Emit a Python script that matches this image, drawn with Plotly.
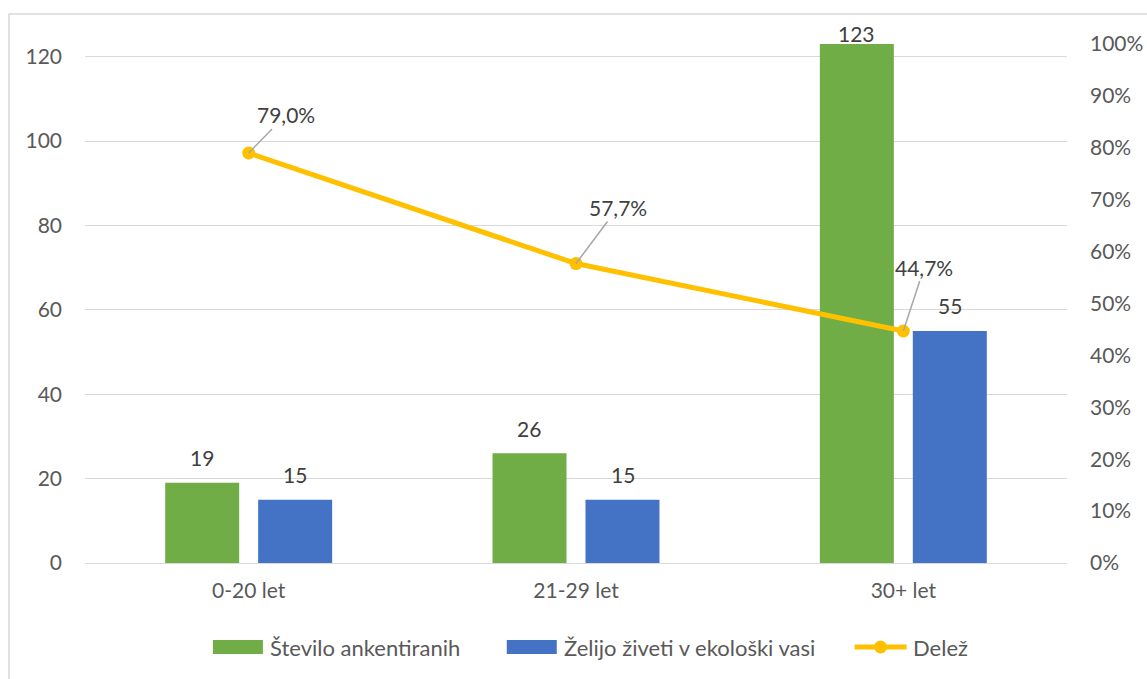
import plotly.graph_objects as go

# Age groups and survey counts
categories = ["0-20 let", "21-29 let", "30+ let"]
surveyed = [19, 26, 123]          # Število ankentiranih
want_eco = [15, 15, 55]           # Želijo živeti v ekološki vasi
share = [0.790, 0.577, 0.447]     # Delež
left_ticks = [0, 20, 40, 60, 80, 100, 120]
right_ticks = [0, 0.1, 0.2, 0.3, 0.4, 0.5, 0.6, 0.7, 0.8, 0.9, 1.0]

GREEN = "#70AD47"
BLUE = "#4472C4"
GOLD = "#FFC000"
AXIS_TXT = "#595959"
LABEL_TXT = "#404040"
GRID = "#D9D9D9"
FONT = "Lato"
FS = 21

W, H = 1147, 679
ML, MR, MT, MB = 85, 79.5, 44, 116
PW = W - ML - MR
PH = H - MT - MB
Y_MAX = 123

fig = go.Figure()

fig.add_trace(go.Bar(
    x=categories, y=surveyed, name="Število ankentiranih",
    marker=dict(color=GREEN, line=dict(width=0)),
    offsetgroup="a",
))
fig.add_trace(go.Bar(
    x=categories, y=want_eco, name="Želijo živeti v ekološki vasi",
    marker=dict(color=BLUE, line=dict(width=0)),
    offsetgroup="b",
))
fig.add_trace(go.Scatter(
    x=categories, y=share, name="Delež", yaxis="y2",
    mode="lines+markers",
    line=dict(color=GOLD, width=5),
    marker=dict(color=GOLD, size=13),
    cliponaxis=False,
))

# Value labels above the bars; kept inside the chart near the top
slot = PW / len(categories) * (1 - 0.432) / 2
for series, side in ((surveyed, -1), (want_eco, 1)):
    for i, (cat, val) in enumerate(zip(categories, series)):
        top_px = MT + PH * (1 - val / Y_MAX)
        shift = min(25, top_px - 33)
        fig.add_annotation(
            x=cat, y=val, xref="x", yref="y", text=str(val),
            showarrow=False, xshift=side * slot / 2, yshift=shift,
            yanchor="middle",
            font=dict(color=LABEL_TXT, size=FS, family=FONT),
        )

# Percentage labels with leader lines
offsets = [(37, -38), (42, -56), (21, -64)]
for cat, val, (ax, ay) in zip(categories, share, offsets):
    fig.add_annotation(
        x=cat, y=val, xref="x", yref="y2",
        text=f"{val*100:.1f}".replace(".", ",") + "%",
        showarrow=True, arrowhead=0, arrowwidth=1.5, arrowcolor="#A6A6A6",
        ax=ax, ay=ay, borderpad=1,
        font=dict(color=LABEL_TXT, size=FS, family=FONT),
    )

# Chart frame
def px_x(p):
    return (p - ML) / PW

def px_y(p):
    return 1 - (p - MT) / PH

shapes = [dict(type="rect", xref="paper", yref="paper",
               x0=px_x(9), x1=px_x(1160), y0=px_y(14), y1=px_y(700),
               line=dict(color=GRID, width=1.5), fillcolor="rgba(0,0,0,0)",
               layer="below")]

# Legend drawn below the plot
legend_y = 647
items = [
    ("rect", GREEN, 213, 263, 268, "Število ankentiranih"),
    ("rect", BLUE, 507, 557, 562, "Želijo živeti v ekološki vasi"),
    ("line", GOLD, 855, 907, 911, "Delež"),
]
for kind, color, x0, x1, tx, label in items:
    if kind == "rect":
        shapes.append(dict(type="rect", xref="paper", yref="paper",
                           x0=px_x(x0), x1=px_x(x1),
                           y0=px_y(legend_y + 7), y1=px_y(legend_y - 7),
                           fillcolor=color, line=dict(width=0)))
    else:
        shapes.append(dict(type="line", xref="paper", yref="paper",
                           x0=px_x(x0), x1=px_x(x1),
                           y0=px_y(legend_y), y1=px_y(legend_y),
                           line=dict(color=color, width=5)))
        cx = (x0 + x1) / 2
        shapes.append(dict(type="circle", xref="paper", yref="paper",
                           x0=px_x(cx - 6.5), x1=px_x(cx + 6.5),
                           y0=px_y(legend_y + 6.5), y1=px_y(legend_y - 6.5),
                           fillcolor=color, line=dict(width=0)))
    fig.add_annotation(
        x=px_x(tx), y=px_y(legend_y), xref="paper", yref="paper",
        text=label, showarrow=False, xanchor="left", yanchor="middle",
        font=dict(color=AXIS_TXT, size=22, family=FONT),
    )

fig.update_layout(
    width=W, height=H,
    margin=dict(l=ML, r=MR, t=MT, b=MB, pad=0, autoexpand=False),
    paper_bgcolor="white", plot_bgcolor="white",
    barmode="group", bargap=0.432, bargroupgap=0.204,
    showlegend=False,
    font=dict(family=FONT, size=FS, color=AXIS_TXT),
    shapes=shapes,
    xaxis=dict(
        automargin=False,
        showgrid=False, showline=False, ticks="",
        tickfont=dict(size=FS, color=AXIS_TXT, family=FONT),
        ticklabelstandoff=13,
    ),
    yaxis=dict(
        automargin=False,
        range=[0, Y_MAX], tickvals=left_ticks,
        showgrid=True, gridcolor=GRID, gridwidth=1.3,
        zeroline=True, zerolinecolor=GRID, zerolinewidth=1.3,
        showline=False, ticks="",
        tickfont=dict(size=FS, color=AXIS_TXT, family=FONT),
        ticklabelstandoff=22,
    ),
    yaxis2=dict(
        automargin=False,
        range=[0, 1], tickvals=right_ticks, tickformat=".0%",
        overlaying="y", side="right",
        showgrid=False, zeroline=False, showline=False, ticks="",
        tickfont=dict(size=FS, color=AXIS_TXT, family=FONT),
        ticklabelstandoff=22,
    ),
)

fig.write_html("out.html")
